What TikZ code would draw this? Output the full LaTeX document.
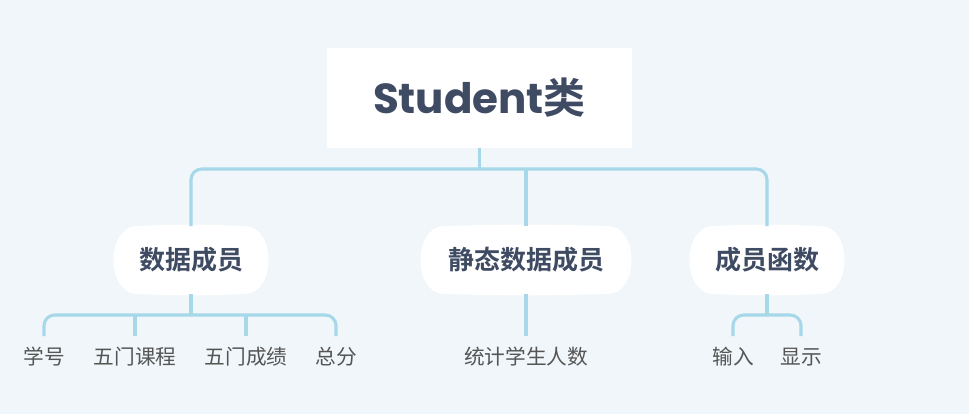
\documentclass[tikz,border=0pt]{standalone}
\usepackage{fontspec}
\newfontfamily\cjkb{Noto Sans CJK SC Bold}
\newfontfamily\cjk{Noto Sans CJK SC}
\newfontfamily\popb{Poppins Bold}
\definecolor{bg}{HTML}{F0F6F9}
\definecolor{ln}{HTML}{A6D8EA}
\definecolor{tx}{HTML}{3E4B62}
\definecolor{lf}{HTML}{555555}
\tikzset{
  conn/.style={draw=ln, line width=2.3pt, rounded corners=8pt},
  stem/.style={draw=ln, line width=2.3pt},
  rootbox/.style={fill=white, minimum width=228.75pt, minimum height=75pt, inner sep=0pt, text=tx, font={\fontsize{31.5}{31.5}\selectfont}},
  midtext/.style={inner sep=0pt, text=tx, font={\cjkb\fontsize{19.5}{19.5}\selectfont}},
  leaf/.style={inner sep=0pt, text=lf, font={\cjk\fontsize{15.5}{15.5}\selectfont}},
}
\newcommand{\blob}[3]{% center x, center y, half width (px)
  \fill[white] ({#1-#3+26},{#2-34}) .. controls ({#1},{#2-36}) .. ({#3+#1-26},{#2-34})
    .. controls ({#1+#3+4},{#2-32}) and ({#1+#3+4},{#2+32}) .. ({#3+#1-26},{#2+34})
    .. controls ({#1},{#2+36}) .. ({#1-#3+26},{#2+34})
    .. controls ({#1-#3-4},{#2+32}) and ({#1-#3-4},{#2-32}) .. cycle;}
\begin{document}
\begin{tikzpicture}[x=0.75pt, y=-0.75pt]
\useasboundingbox[fill=bg] (0,0) rectangle (969,414);
% blobs
\blob{191}{260}{81}
\blob{526}{260}{109}
\blob{767}{260}{81}
% root
\node[rootbox] (root) at (479.5,98) {\popb Student\cjkb 类};
% middle nodes
\node[midtext] (m1) at (191,260) {数据成员};
\node[midtext] (m2) at (526,260) {静态数据成员};
\node[midtext] (m3) at (767,260) {成员函数};
\coordinate (t1) at (191,226);
\coordinate (t2) at (526,226);
\coordinate (t3) at (767,226);
\coordinate (b1) at (191,294);
\coordinate (b2) at (526,294);
\coordinate (b3) at (767,294);
\coordinate (j0) at (479.5,169);
\coordinate (j1) at (191,315);
\coordinate (j3) at (767,315);
% leaves
\node[leaf] (l1) at (44,357) {学号};
\node[leaf] (l2) at (135,357) {五门课程};
\node[leaf] (l3) at (246,357) {五门成绩};
\node[leaf] (l4) at (336,357) {总分};
\node[leaf] (l5) at (526,357) {统计学生人数};
\node[leaf] (l6) at (733,357) {输入};
\node[leaf] (l7) at (801,357) {显示};
\foreach \n/\x in {l1/44,l2/135,l3/246,l4/336,l5/526,l6/733,l7/801}{
  \coordinate (\n t) at (\x,336);
}
% connectors
\draw[conn] (t1) |- (j0) -| (t3);
\draw[stem] (root.south) -- (j0);
\draw[stem] (t2 |- j0) -- (t2);
\draw[conn] (l1t) |- (j1) -| (l4t);
\draw[stem] (b1) -- (j1);
\draw[stem] (l2t |- j1) -- (l2t);
\draw[stem] (l3t |- j1) -- (l3t);
\draw[stem] (b2) -- (l5t);
\draw[conn] (l6t) |- (j3) -| (l7t);
\draw[stem] (b3) -- (j3);
\end{tikzpicture}
\end{document}
